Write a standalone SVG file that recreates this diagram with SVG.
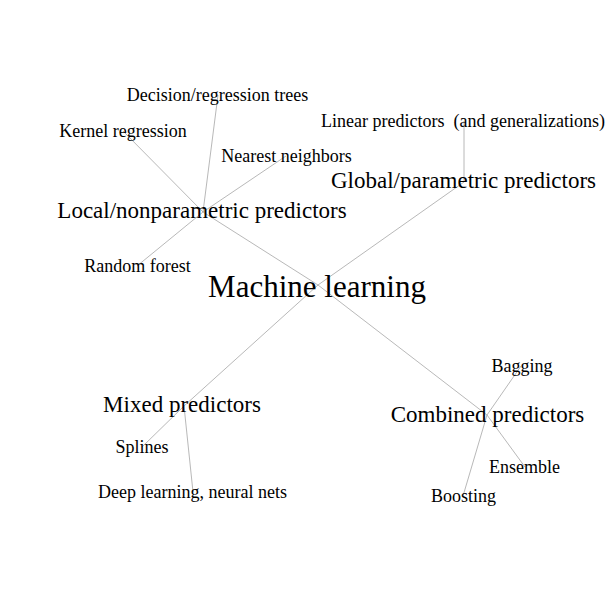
<svg xmlns="http://www.w3.org/2000/svg" width="612" height="612" viewBox="0 0 612 612">
<style>
text{font-family:"Liberation Serif","Times New Roman",serif;fill:#000;text-anchor:middle;white-space:pre}
.s{font-size:18px}
.m{font-size:23px}
.l{font-size:31px}
.e line{stroke:#a6a6a6;stroke-width:0.8}
</style>
<rect width="612" height="612" fill="#fff"/>
<g id="edges" class="e">
<line x1="318" y1="285" x2="203" y2="212"/>
<line x1="318" y1="285" x2="464" y2="182"/>
<line x1="318" y1="285" x2="184" y2="406"/>
<line x1="318" y1="285" x2="487" y2="415"/>
<line x1="203" y1="212" x2="123" y2="131"/>
<line x1="203" y1="212" x2="218" y2="95"/>
<line x1="203" y1="212" x2="286" y2="156"/>
<line x1="203" y1="212" x2="137" y2="266"/>
<line x1="464" y1="182" x2="464" y2="121"/>
<line x1="184" y1="406" x2="142" y2="447"/>
<line x1="184" y1="406" x2="193" y2="492"/>
<line x1="487" y1="415" x2="521" y2="366"/>
<line x1="487" y1="415" x2="525" y2="467"/>
<line x1="487" y1="415" x2="463" y2="496"/>
</g>
<g id="ml"><text class="l" x="317" y="297">Machine learning</text></g>
<g id="local"><text class="m" x="202" y="218">Local/nonparametric predictors</text></g>
<g id="global"><text class="m" x="463.5" y="188">Global/parametric predictors</text></g>
<g id="mixed"><text class="m" x="182" y="412">Mixed predictors</text></g>
<g id="combined"><text class="m" x="487.5" y="422">Combined predictors</text></g>
<g id="kernel"><text class="s" x="123" y="137">Kernel regression</text></g>
<g id="decision"><text class="s" x="217.5" y="101">Decision/regression trees</text></g>
<g id="nearest"><text class="s" x="286.5" y="162">Nearest neighbors</text></g>
<g id="forest"><text class="s" x="137.5" y="272">Random forest</text></g>
<g id="linear"><text class="s" x="463" y="127">Linear predictors  (and generalizations)</text></g>
<g id="splines"><text class="s" x="142" y="453">Splines</text></g>
<g id="deep"><text class="s" x="192.5" y="498">Deep learning, neural nets</text></g>
<g id="bagging"><text class="s" x="522" y="372">Bagging</text></g>
<g id="ensemble"><text class="s" x="524.5" y="473">Ensemble</text></g>
<g id="boosting"><text class="s" x="463.5" y="502">Boosting</text></g>
</svg>
